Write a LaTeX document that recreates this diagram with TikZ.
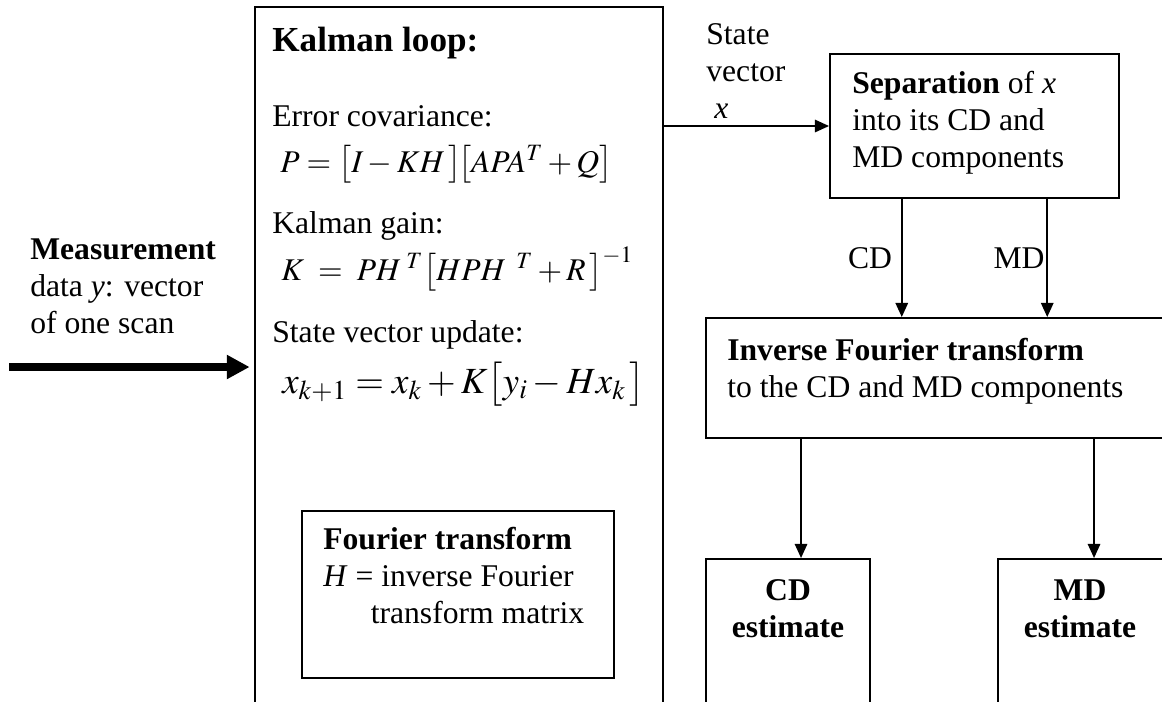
\documentclass[tikz,border=0pt]{standalone}
\usepackage{amsmath}
\usepackage{mathptmx}
\usepackage[no-math]{fontspec}
\setmainfont{Liberation Serif}
\usetikzlibrary{arrows.meta,fit,calc}

\begin{document}
\begin{tikzpicture}[x=0.02cm, y=-0.02cm,
	box/.style={draw, line width=1.1pt, inner sep=0pt},
	txt/.style={anchor=base west, inner sep=0pt, align=left, font=\fontsize{18}{21}\selectfont},
	arr/.style={line width=1.1pt, -{Triangle[width=7pt, length=8pt]}},
	bigarr/.style={line width=4.5pt, -{Triangle[width=13pt, length=13pt]}}]
	\useasboundingbox (0,0) rectangle (1162,701);
	\clip (0,0) rectangle (1162,701);

	\node[box, fit={(255,7) (663,760)}] (kalman) {};
	\node[box, fit={(302,511) (614,678)}] (fourier) {};
	\node[box, fit={(830,54) (1119,198)}] (sep) {};
	\node[box, fit={(706,318) (1200,438)}] (inv) {};
	\node[box, fit={(706,559) (870,760)}] (cdest) {};
	\node[box, fit={(998,559) (1200,760)}] (mdest) {};

	\node[txt] (meastext) at (30,333) {\textbf{Measurement}\\data \textit{y}: vector\\of one scan};
	\node[txt, font=\fontsize{20}{24}\selectfont\bfseries] (title) at (272,51) {Kalman loop:};
	\node[txt] (errlbl) at (272,126) {Error covariance:};
	\node[txt] (perr) at (280,172) {$P = \bigl[I - KH\,\bigr]\!\bigl[APA^{T} + Q\bigr]$};
	\node[txt] (gainlbl) at (272,233) {Kalman gain:};
	\node[txt] (kgain) at (281,280) {$K\;=\;PH^{\;T}\bigl[HPH^{\;\;T} + R\,\bigr]^{-1}$};
	\node[txt] (updlbl) at (272,342) {State vector update:};
	\node[txt, font=\fontsize{21}{24}\selectfont] (xupd) at (282,393) {$x_{k+1} = x_k + K\bigl[y_i - Hx_k\,\bigr]$};
	\node[txt] (ftext) at (323,623) {\textbf{Fourier transform}\\\textit{H} = inverse Fourier\\\hspace*{1.5em}transform matrix};
	\node[txt] (statelbl) at (706,118) {State\\vector\\\hspace*{0.25em}\textit{x}};
	\node[txt] (septext) at (852,167) {\textbf{Separation} of \textit{x}\\into its CD and\\MD components};
	\node[txt] (invtext) at (727,397) {\textbf{Inverse Fourier transform}\\to the CD and MD components};
	\node[txt, anchor=base, align=center] (cdtext) at (788,637) {\textbf{CD}\\\textbf{estimate}};
	\node[txt, anchor=base, align=center] (mdtext) at (1080,637) {\textbf{MD}\\\textbf{estimate}};

	\coordinate (meas) at (9,367);
	\coordinate (cdsplit) at ($(sep.south west)!0.25!(sep.south east)$);
	\coordinate (mdsplit) at ($(sep.south west)!0.75!(sep.south east)$);
	\coordinate (cdout) at ($(inv.south west)+(96,0)$);
	\coordinate (mdout) at ($(mdest.north west)+(97,0)$);

	\draw[bigarr, shorten >=2.5pt] (meas) -- (meas -| kalman.west);
	\draw[arr] (kalman.east |- sep.west) -- (sep.west);
	\draw[arr] (cdsplit) -- node[left, inner sep=5pt, font=\fontsize{18}{21}\selectfont] (cdlbl) {CD} (cdsplit |- inv.north);
	\draw[arr] (mdsplit) -- node[left, inner sep=1pt, font=\fontsize{18}{21}\selectfont] (mdlbl) {MD} (mdsplit |- inv.north);
	\draw[arr] (cdout) -- (cdout |- cdest.north);
	\draw[arr] (mdout |- inv.south) -- (mdout);
\end{tikzpicture}
\end{document}
